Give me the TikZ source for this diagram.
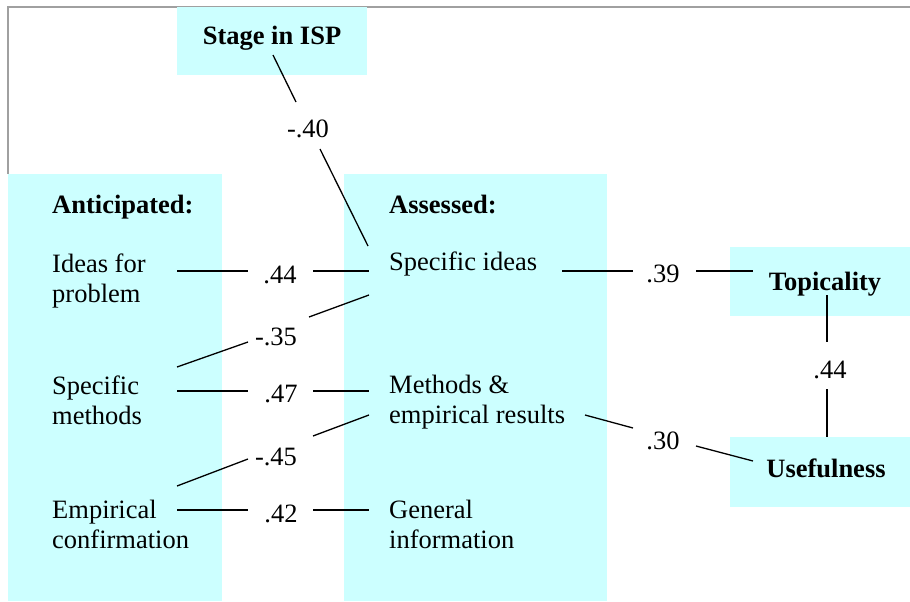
\documentclass[tikz,border=0pt]{standalone}
\usepackage{fontspec}
\setmainfont{Liberation Serif}
\definecolor{boxcyan}{HTML}{CCFFFF}
\definecolor{framegray}{HTML}{A0A0A0}
\begin{document}
\begin{tikzpicture}[x=1pt,y={(0pt,-1pt)},
  panel/.style={fill=boxcyan, draw=none, inner sep=0pt, outer sep=0pt, anchor=north west},
  txt/.style={anchor=north west, inner sep=0pt, align=left, font=\fontsize{26.5}{30}\selectfont},
  hdr/.style={anchor=base west, inner sep=0pt, font=\fontsize{26.5}{30}\selectfont\bfseries},
  ttl/.style={anchor=base, inner sep=0pt, font=\fontsize{26.5}{30}\selectfont\bfseries},
  val/.style={anchor=base, inner sep=0pt, font=\fontsize{26.5}{30}\selectfont},
  conn/.style={line width=1.3pt, black}]
\useasboundingbox (0,0) rectangle (910,602);
% frame
\draw[framegray, line width=2pt] (8,174) -- (8,7) -- (910,7);
% panels
\node[panel, minimum width=214pt, minimum height=427pt] (antbox) at (8,174) {};
\node[panel, minimum width=263pt, minimum height=427pt] (assbox) at (344,174) {};
\node[panel, minimum width=190pt, minimum height=68pt] (stagebox) at (177,7) {};
\node[panel, minimum width=181pt, minimum height=69pt] (topbox) at (730,247) {};
\node[panel, minimum width=181pt, minimum height=70pt] (usebox) at (730,437) {};
% texts
\node[ttl] (stage) at (272,45) {Stage in ISP};
\node[ttl] (topic) at (825,290) {Topicality};
\node[ttl] (useful) at (826,477) {Usefulness};
\node[hdr] (antttl) at (52,213) {Anticipated:};
\node[hdr] (assttl) at (389,213) {Assessed:};
\node[txt] (ideas) at (52,251) {\strut Ideas for\\\strut problem};
\node[txt] (smeth) at (52,373) {\strut Specific\\\strut methods};
\node[txt] (empc) at (52,497) {\strut Empirical\\\strut confirmation};
\node[anchor=base west, inner sep=0pt, font=\fontsize{26.5}{30}\selectfont] (sideas) at (389,270) {Specific ideas};
\node[txt] (methres) at (389,372) {\strut Methods \&\\\strut empirical results};
\node[txt] (geninf) at (389,497) {\strut General\\\strut information};
% values
\node[val] (v44a) at (280,283) {.44};
\node[val] (v35) at (276,345) {-.35};
\node[val] (v47) at (281,402) {.47};
\node[val] (v45) at (276,465) {-.45};
\node[val] (v42) at (281,522) {.42};
\node[val] (v40) at (308,137) {-.40};
\node[val] (v39) at (663,282) {.39};
\node[val] (v44b) at (830,378) {.44};
\node[val] (v30) at (663,449) {.30};
% connector end points
\coordinate (a1) at (177,271); \coordinate (a2) at (248,271); \coordinate (a3) at (313,271); \coordinate (a4) at (369,271);
\coordinate (b1) at (177,391); \coordinate (b2) at (248,391); \coordinate (b3) at (313,391); \coordinate (b4) at (369,391);
\coordinate (c1) at (177,510); \coordinate (c2) at (248,510); \coordinate (c3) at (313,510); \coordinate (c4) at (369,510);
\coordinate (d1) at (369,295); \coordinate (d2) at (309,317); \coordinate (d3) at (248,342); \coordinate (d4) at (177,367);
\coordinate (e1) at (369,415); \coordinate (e2) at (313,436); \coordinate (e3) at (248,459); \coordinate (e4) at (177,486);
\coordinate (f1) at (273,55); \coordinate (f2) at (296,102); \coordinate (f3) at (320,149); \coordinate (f4) at (368,246);
\coordinate (g1) at (562,271); \coordinate (g2) at (633,271); \coordinate (g3) at (696,271); \coordinate (g4) at (753,271);
\coordinate (h1) at (827,295); \coordinate (h2) at (827,342); \coordinate (h3) at (827,389); \coordinate (h4) at (827,437);
\coordinate (k1) at (585,415); \coordinate (k2) at (633,428); \coordinate (k3) at (696,446); \coordinate (k4) at (753,461);
% connectors
\draw[conn] (a1) -- (a2) (a3) -- (a4);
\draw[conn] (b1) -- (b2) (b3) -- (b4);
\draw[conn] (c1) -- (c2) (c3) -- (c4);
\draw[conn] (d1) -- (d2) (d3) -- (d4);
\draw[conn] (e1) -- (e2) (e3) -- (e4);
\draw[conn] (f1) -- (f2) (f3) -- (f4);
\draw[conn] (g1) -- (g2) (g3) -- (g4);
\draw[conn] (h1) -- (h2) (h3) -- (h4);
\draw[conn] (k1) -- (k2) (k3) -- (k4);
\end{tikzpicture}
\end{document}
